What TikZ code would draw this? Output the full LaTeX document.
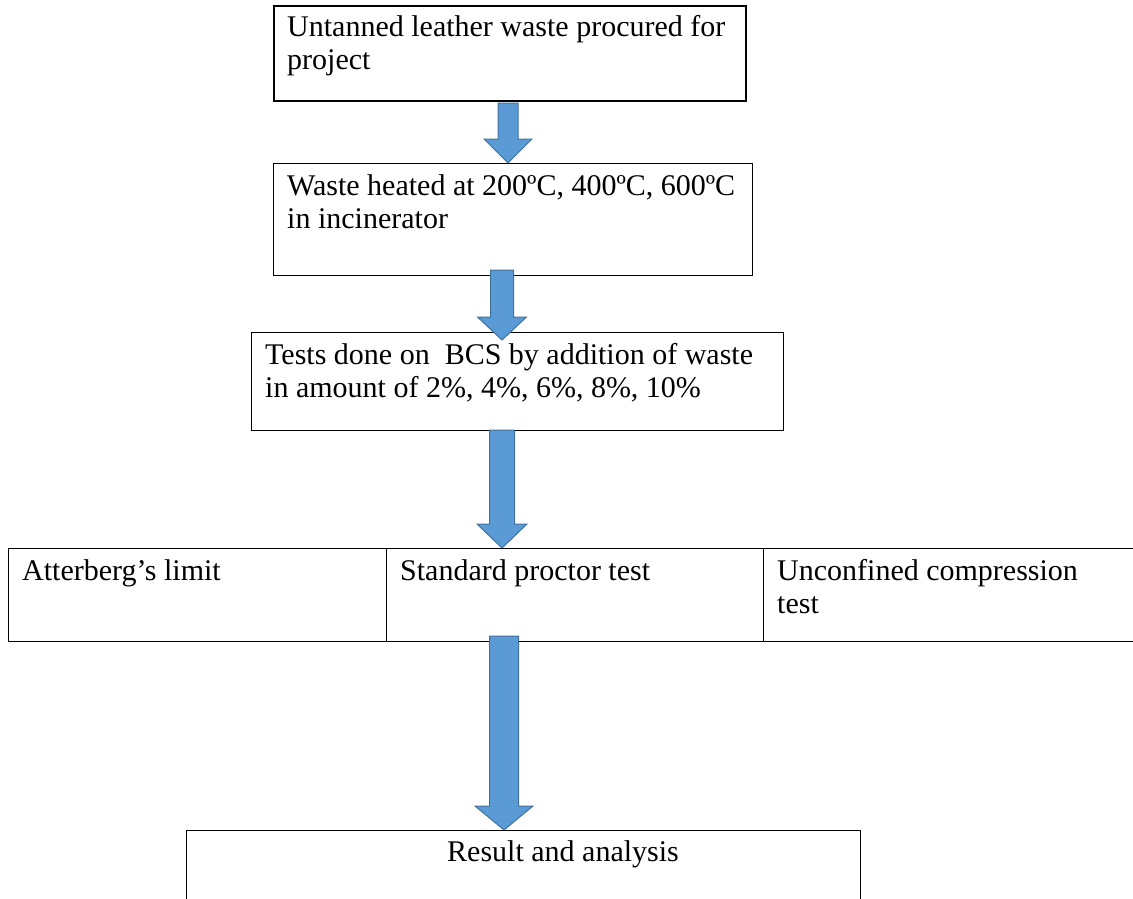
\documentclass[tikz,border=0pt]{standalone}
\usepackage{fontspec}
\setmainfont{Liberation Serif}
\definecolor{arrowfill}{HTML}{5B9BD5}
\definecolor{arrowline}{HTML}{41719C}
\newcommand{\blockarrow}[6]{% cx, top, base, tip, shaft half, head half
  \filldraw[blockarrowstyle] (#1-#5,#2) -- (#1+#5,#2) -- (#1+#5,#3) -- (#1+#6,#3)
    -- (#1,#4) -- (#1-#6,#3) -- (#1-#5,#3) -- cycle;}
\tikzset{
  boxstyle/.style={draw=black, inner sep=0pt, anchor=north west, line width=1.4pt},
  txt/.style={anchor=north west, inner sep=0pt, align=left,
    font=\fontsize{30}{33}\selectfont},
  blockarrowstyle/.style={fill=arrowfill, draw=arrowline, line width=1pt, line join=miter}
}
\begin{document}
\begin{tikzpicture}[x=1pt,y=-1pt]
\useasboundingbox (0,0) rectangle (1133,899);
% boxes
\node[boxstyle, line width=2.4pt, minimum width=472pt, minimum height=95pt] (b1) at (273,5) {};
\node[boxstyle, line width=1pt, minimum width=479pt, minimum height=112pt] (b2) at (273,163) {};
\node[boxstyle, minimum width=532pt, minimum height=98pt] (b3) at (251,332) {};
\node[boxstyle, minimum width=378pt, minimum height=93pt] (c1) at (8,548) {};
\node[boxstyle, minimum width=377pt, minimum height=93pt] (c2) at (386,548) {};
\node[boxstyle, minimum width=390pt, minimum height=93pt] (c3) at (763,548) {};
\node[boxstyle, minimum width=674pt, minimum height=100pt] (b5) at (186,830) {};
% texts
\node[txt] (t1) at (287,13) {\strut Untanned leather waste procured for\\\strut project};
\node[txt] (t2) at (287,172) {\strut Waste heated at 200ºC, 400ºC, 600ºC\\\strut in incinerator};
\node[txt] (t3) at (265,341) {\strut Tests done on\ \ BCS by addition of waste\\\strut in amount of 2\%, 4\%, 6\%, 8\%, 10\%};
\node[txt] (t4) at (22,557) {\strut Atterberg’s limit};
\node[txt] (t5) at (400,557) {\strut Standard proctor test};
\node[txt] (t6) at (777,557) {\strut Unconfined compression\\\strut test};
\node[txt, anchor=north] (t7) at (563,838) {\strut Result and analysis};
% arrows
\blockarrow{508}{103}{139}{163}{10}{24}
\blockarrow{502}{270}{317}{340}{11.5}{24.5}
\blockarrow{502}{430}{524}{548}{12.5}{25}
\blockarrow{504}{636}{806}{830}{14.5}{29}
\end{tikzpicture}
\end{document}
